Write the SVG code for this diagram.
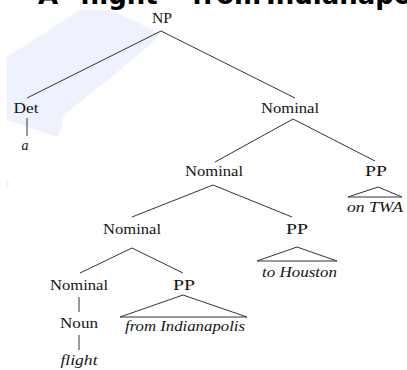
<svg xmlns="http://www.w3.org/2000/svg" width="407" height="370" viewBox="0 0 407 370">
  <style>
    .lbl { font-family: "Liberation Serif", "Times New Roman", serif; font-size: 14px; fill: #141414; text-anchor: middle; }
    .word { font-style: italic; }
    .edge { stroke: #333333; stroke-width: 1; fill: none; }
    .title { font-family: "DejaVu Sans", Verdana, sans-serif; font-weight: bold; font-size: 26px; fill: #000; }
    .mark { fill: #edf2fd; }
  </style>
  <rect width="407" height="370" fill="#ffffff"/>

  <!-- faint background logo -->
  <g id="backdrop">
    <path class="mark" d="M80,10 L110,10 L160,33 L150,45 L110,78 L70,110 Q60,118 62,126 L57,137 L7,120 L7,57 Z"/>
    <path class="mark" d="M6,180 L10,184 L6,188 Z"/>
  </g>

  <!-- heading, cropped at the top edge -->
  <g id="heading">
    <text class="title" x="38" y="4">A</text>
    <text class="title" x="80" y="4">flight</text>
    <text class="title" x="192" y="4">from</text>
    <text class="title" x="266" y="4">Indianapolis</text>
  </g>

  <g id="connectors">
    <line class="edge" x1="161" y1="31" x2="27" y2="98"/>
    <line class="edge" x1="161" y1="31" x2="295" y2="98"/>
    <line class="edge" x1="27" y1="118" x2="27" y2="136"/>
    <line class="edge" x1="293" y1="119" x2="215" y2="162"/>
    <line class="edge" x1="293" y1="119" x2="375" y2="161"/>
    <polyline class="edge" points="348,197 378,187 402,197"/>
    <line class="edge" x1="348" y1="197" x2="402" y2="197"/>
    <line class="edge" x1="213" y1="185" x2="132" y2="217"/>
    <line class="edge" x1="213" y1="185" x2="292" y2="217"/>
    <polyline class="edge" points="257,261 297,247 337,261"/>
    <line class="edge" x1="257" y1="261" x2="337" y2="261"/>
    <line class="edge" x1="132" y1="248" x2="80" y2="273"/>
    <line class="edge" x1="132" y1="248" x2="183" y2="273"/>
    <polyline class="edge" points="120,317 183,295 247,317"/>
    <line class="edge" x1="120" y1="317" x2="247" y2="317"/>
    <line class="edge" x1="79" y1="297" x2="79" y2="312"/>
    <line class="edge" x1="79" y1="335" x2="79" y2="350"/>
  </g>

  <g id="np"><text class="lbl" x="162" y="23" textLength="20" lengthAdjust="spacingAndGlyphs">NP</text></g>
  <g id="det"><text class="lbl" x="26" y="113" textLength="25" lengthAdjust="spacingAndGlyphs">Det</text></g>
  <g id="det-word"><text class="lbl word" x="25" y="150">a</text></g>
  <g id="nominal-1"><text class="lbl" x="290" y="113" textLength="58" lengthAdjust="spacingAndGlyphs">Nominal</text></g>
  <g id="nominal-2"><text class="lbl" x="214" y="176" textLength="58" lengthAdjust="spacingAndGlyphs">Nominal</text></g>
  <g id="pp-1"><text class="lbl" x="376" y="176" textLength="22" lengthAdjust="spacingAndGlyphs">PP</text></g>
  <g id="pp-1-words"><text class="lbl word" x="375" y="212" textLength="56" lengthAdjust="spacingAndGlyphs">on TWA</text></g>
  <g id="nominal-3"><text class="lbl" x="132" y="234" textLength="58" lengthAdjust="spacingAndGlyphs">Nominal</text></g>
  <g id="pp-2"><text class="lbl" x="297" y="234" textLength="22" lengthAdjust="spacingAndGlyphs">PP</text></g>
  <g id="pp-2-words"><text class="lbl word" x="299.5" y="277" textLength="75" lengthAdjust="spacingAndGlyphs">to Houston</text></g>
  <g id="nominal-4"><text class="lbl" x="79" y="290" textLength="58" lengthAdjust="spacingAndGlyphs">Nominal</text></g>
  <g id="pp-3"><text class="lbl" x="184" y="290" textLength="22" lengthAdjust="spacingAndGlyphs">PP</text></g>
  <g id="pp-3-words"><text class="lbl word" x="185" y="331" textLength="120" lengthAdjust="spacingAndGlyphs">from Indianapolis</text></g>
  <g id="noun"><text class="lbl" x="79" y="328" textLength="38" lengthAdjust="spacingAndGlyphs">Noun</text></g>
  <g id="noun-word"><text class="lbl word" x="79" y="365" textLength="37" lengthAdjust="spacingAndGlyphs">flight</text></g>
</svg>
